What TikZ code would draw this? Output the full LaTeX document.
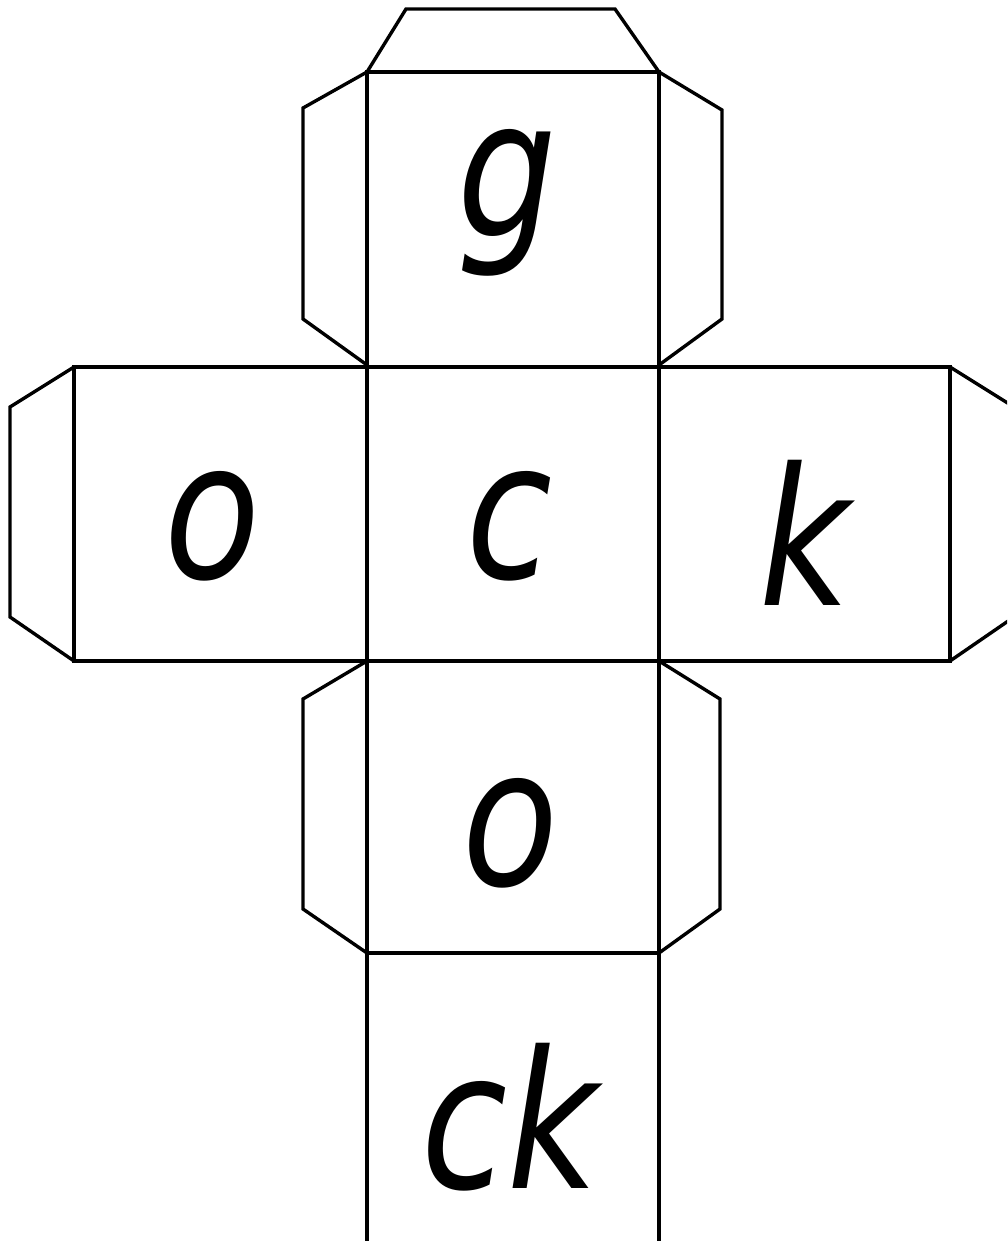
\documentclass[tikz,border=0pt]{standalone}
\usepackage{fontspec}
\newfontfamily\handfont{DejaVu Sans}[FakeStretch=0.82]
\usetikzlibrary{positioning}

\begin{document}
\begin{tikzpicture}[
    x=0.025cm, y=-0.025cm,
    net/.style={line width=2.4pt, line join=miter},
    letter/.style={font=\handfont\itshape\fontsize{136}{140}\selectfont,
                   inner sep=0pt, anchor=base},
  ]

  \clip (0,0) rectangle (1007,1241);
  \useasboundingbox (0,0) rectangle (1007,1241);

  % faces
  \draw[net] (367,72) rectangle (659,1270);
  \draw[net] (74,367) rectangle (950,661);
  \draw[net] (367,953) -- (659,953);
  \draw[net] (367,367) -- (367,661);
  \draw[net] (659,367) -- (659,661);

  % glue tabs
  \draw[net] (367,72) -- (406,9) -- (615,9) -- (659,72);
  \draw[net] (367,72) -- (303,108) -- (303,319) -- (367,365);
  \draw[net] (659,72) -- (722,110) -- (722,319) -- (659,365);
  \draw[net] (74,367) -- (10,407) -- (10,617) -- (74,661);
  \draw[net] (950,367) -- (1014,407) -- (1014,617) -- (950,661);
  \draw[net] (367,661) -- (303,699) -- (303,909) -- (367,953);
  \draw[net] (659,661) -- (720,699) -- (720,909) -- (659,953);

  % letters
  \node[letter] (top)    at (507,237)  {g};
  \node[letter] (left)   at (212,578)  {o};
  \node[letter] (centre) at (510,578)  {c};
  \node[letter] (right)  at (805,605)  {k};
  \node[letter] (below)  at (510,885)  {o};
  \node[letter] (last)   at (510,1188) {ck};

\end{tikzpicture}
\end{document}
